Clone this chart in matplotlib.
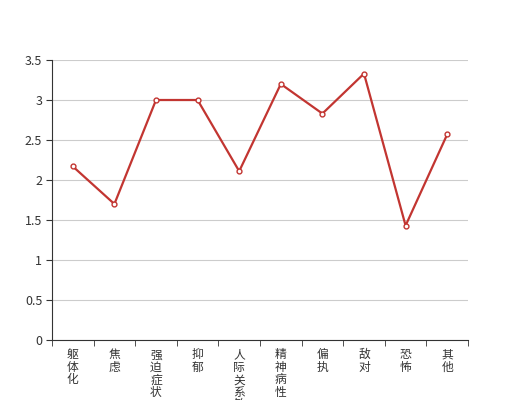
import matplotlib
matplotlib.use("Agg")
import matplotlib.pyplot as plt
import numpy as np

plt.rcParams["font.family"] = ["Noto Sans CJK SC", "DejaVu Sans"]

# --- Data ---
categories = ["躯体化", "焦虑", "强迫症状", "抑郁", "人际关系敏感",
              "精神病性", "偏执", "敌对", "恐怖", "其他"]
scores = [2.17, 1.70, 3.00, 3.00, 2.11, 3.20, 2.83, 3.33, 1.43, 2.57]
y_ticks = [0, 0.5, 1, 1.5, 2, 2.5, 3, 3.5]

red = "#c23531"
x = np.arange(len(categories))

fig = plt.figure(figsize=(5.2, 4), dpi=100)
ax = fig.add_axes([0.1, 0.15, 0.8, 0.70])

ax.plot(x, scores, color=red, linewidth=1.6, marker="o", markersize=3.5,
        markerfacecolor="white", markeredgecolor=red, markeredgewidth=1,
        zorder=3)

ax.set_xlim(-0.5, len(categories) - 0.5)
ax.set_ylim(0, 3.5)
ax.set_yticks(y_ticks)
ax.set_yticklabels(["%g" % v for v in y_ticks])
ax.yaxis.grid(True, color="#cccccc", linewidth=0.8)
ax.set_axisbelow(True)

# category labels, stacked vertically (long ones run off the bottom, as in the original)
ax.set_xticks(x)
ax.set_xticklabels(["\n".join(c) for c in categories], va="top",
                   linespacing=0.95)
ax.set_xticks(np.arange(-0.5, len(categories)), minor=True)
ax.tick_params(axis="x", which="major", length=0, pad=6, labelsize=8.5,
               labelcolor="#333333")
ax.tick_params(axis="x", which="minor", length=4, color="#333333")
ax.tick_params(axis="y", length=4, color="#333333", labelsize=9,
               labelcolor="#333333", pad=3)

for side in ["top", "right"]:
    ax.spines[side].set_visible(False)
for side in ["left", "bottom"]:
    ax.spines[side].set_color("#333333")

fig.savefig("out.png", dpi=100)
